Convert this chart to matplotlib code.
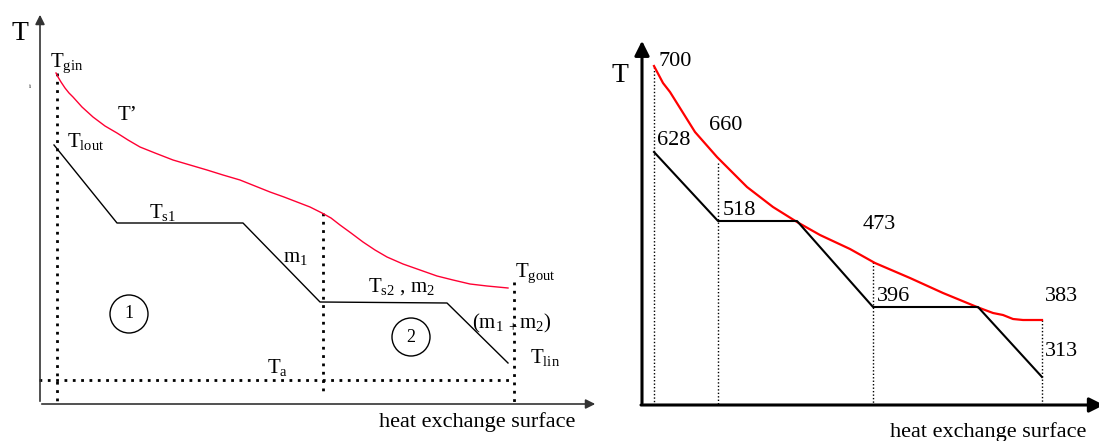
import numpy as np
from matplotlib import pyplot as plt
from matplotlib.patches import Circle

plt.rcParams['font.family'] = ['Liberation Serif', 'DejaVu Serif']
plt.rcParams['mathtext.fontset'] = 'custom'
plt.rcParams['mathtext.rm'] = 'Liberation Serif'
plt.rcParams['mathtext.it'] = 'Liberation Serif:italic'

# schematic positions (pixel units, y downwards)
# left panel: hot stream T' and cold stream with two evaporation plateaus
left_red_x = [56, 58, 61, 65, 69, 73, 82, 93, 105, 117, 128, 140, 155, 173, 190, 207, 223, 240,
              255, 270, 284, 297, 310, 322, 331, 340, 351, 363, 375, 387, 403, 420, 437, 453, 470, 487, 508]
left_red_y = [73, 77, 82, 88, 93, 97, 107, 117, 126, 133, 140, 147, 153, 160, 165, 170, 175, 180,
              186, 192, 197, 202, 207, 213, 218, 225, 233, 242, 250, 257, 264, 270, 276, 280, 284, 286, 288]
left_black_x = [54, 117, 243, 320, 447, 508]
left_black_y = [145, 223, 223, 302, 303, 363]

# right panel: numeric example
right_red_x = [654, 663, 670, 695, 717, 747, 773, 797, 820, 850, 875, 910, 943, 977, 993, 1003, 1013, 1023, 1042]
right_red_y = [66, 83, 92, 132, 157, 187, 207, 222, 235, 249, 263, 278, 293, 307, 313, 315, 319, 320, 320]
right_black_x = [654, 718, 797, 873, 978, 1042]
right_black_y = [152, 221, 221, 307, 307, 377]
right_drop_x = [654, 718, 873, 1042]
right_drop_top = [67, 163, 262, 320]

temps = ['700', '660', '628', '518', '473', '396', '383', '313']
temp_x = [659, 709, 657, 723, 863, 877, 1045, 1045]
temp_y = [66, 130, 145, 215, 229, 301, 301, 356]

left_labels = [r'T$_{\mathrm{gin}}$', 'T\u2019', r'T$_{\mathrm{lout}}$', r'T$_{\mathrm{s1}}$',
               r'm$_{1}$', r'T$_{\mathrm{s2}}$ , m$_{2}$', r'T$_{\mathrm{gout}}$',
               r'(m$_{1\ +}$m$_{2}$)', r'T$_{\mathrm{lin}}$', r'T$_{\mathrm{a}}$']
left_label_x = [50, 118, 67, 149, 283, 368, 515, 472, 530, 267]
left_label_y = [67, 120, 147, 218, 262, 292, 277, 328, 363, 373]

zones = ['1', '2']
zone_x = [129, 411]
zone_y = [314, 337]

fig = plt.figure(figsize=(10.99, 4.41), dpi=100)
ax = fig.add_axes([0, 0, 1, 1])
ax.set_xlim(0, 1099)
ax.set_ylim(441, 0)
ax.axis('off')

# ---- left panel ----
ax.annotate('', xy=(40, 12), xytext=(40, 404),
            arrowprops=dict(arrowstyle='-|>', color='#333333', lw=1.2, mutation_scale=14))
ax.annotate('', xy=(598, 404), xytext=(39, 404),
            arrowprops=dict(arrowstyle='-|>', color='#333333', lw=1.2, mutation_scale=14))
ax.plot([57, 57], [73, 406], color='black', lw=2, linestyle=(0, (1, 2)))
ax.plot([323, 323], [213, 396], color='black', lw=2, linestyle=(0, (1, 2)))
ax.plot([514, 514], [282, 407], color='black', lw=2, linestyle=(0, (1, 2)))
ax.plot([39, 514], [380, 380], color='black', lw=2, linestyle=(0, (1, 2)))
ax.plot(left_red_x, left_red_y, color='#ff0033', lw=1)
ax.plot(left_black_x, left_black_y, color='black', lw=1)

ax.text(12, 40, 'T', fontsize=20)
ax.text(29, 88, 'i', fontsize=5)
for lab, x, y in zip(left_labels, left_label_x, left_label_y):
    ax.text(x, y, lab, fontsize=15, va='baseline')
for lab, x, y in zip(zones, zone_x, zone_y):
    ax.add_patch(Circle((x, y), 19, fill=False, lw=1, color='black'))
    ax.text(x, y, lab, fontsize=13, ha='center', va='center')
ax.text(477, 427, 'heat exchange surface', fontsize=16, ha='center', va='baseline')

# ---- right panel ----
ax.annotate('', xy=(642, 38), xytext=(642, 406),
            arrowprops=dict(arrowstyle='-|>', color='black', lw=2.2, mutation_scale=22))
ax.annotate('', xy=(1104, 405), xytext=(641, 405), annotation_clip=False,
            arrowprops=dict(arrowstyle='-|>', color='black', lw=2.2, mutation_scale=22,
                            shrinkA=0, shrinkB=0))
for x, top in zip(right_drop_x, right_drop_top):
    ax.plot([x, x], [top, 404], color='black', lw=1, linestyle=(0, (1, 1.5)))
ax.plot(right_red_x, right_red_y, color='#ff0000', lw=1.6)
ax.plot(right_black_x, right_black_y, color='black', lw=1.5)

ax.text(612, 82, 'T', fontsize=20)
for lab, x, y in zip(temps, temp_x, temp_y):
    ax.text(x, y, lab, fontsize=16, va='baseline')
ax.text(988, 437, 'heat exchange surface', fontsize=16, ha='center', va='baseline')

fig.savefig('out.png', dpi=100)
